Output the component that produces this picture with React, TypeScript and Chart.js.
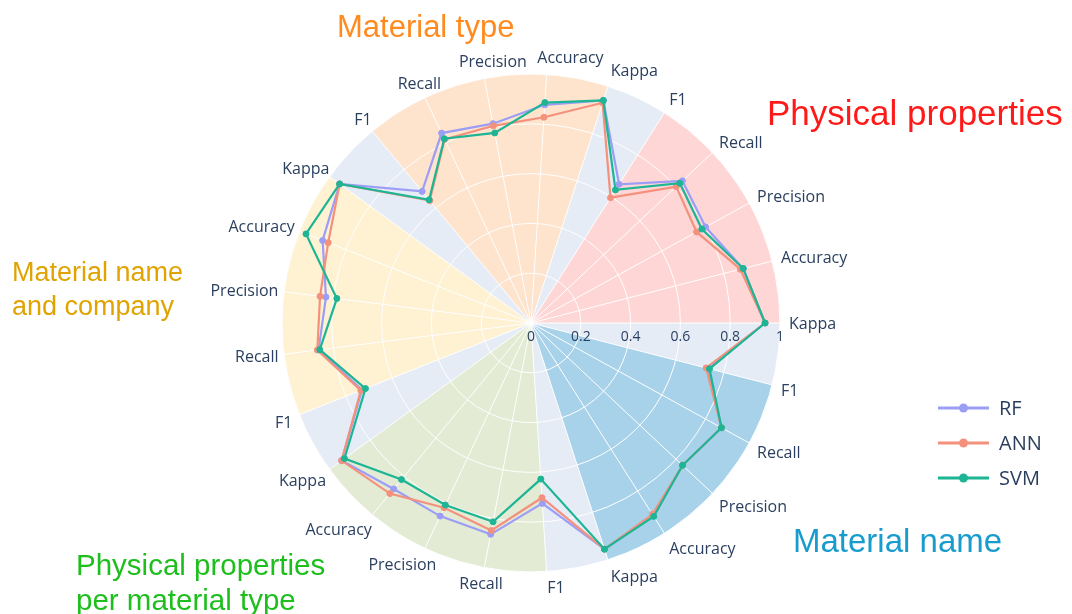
import React, { useEffect, useRef } from 'react';
import { Chart, registerables } from 'chart.js';

Chart.register(...registerables);

// ---------- data ----------
const metrics = ['Kappa', 'Accuracy', 'Precision', 'Recall', 'F1'];
const groupNames = [
  'Physical properties',
  'Material type',
  'Material name and company',
  'Physical properties per material type',
  'Material name',
];
// categories, counter-clockwise from 3 o'clock
const categories = groupNames.flatMap(() => metrics);

const rfValues = [
  0.94, 0.88, 0.8, 0.834, 0.66,
  0.94, 0.878, 0.815, 0.843, 0.686,
  0.95, 0.9, 0.83, 0.86, 0.73,
  0.94, 0.865, 0.857, 0.864, 0.726,
  0.955, 0.915, 0.835, 0.873, 0.735,
];
const annValues = [
  0.94, 0.868, 0.759, 0.8, 0.596,
  0.93, 0.828, 0.806, 0.815, 0.638,
  0.95, 0.876, 0.854, 0.865, 0.735,
  0.94, 0.889, 0.82, 0.848, 0.703,
  0.955, 0.91, 0.835, 0.873, 0.726,
];
const svmValues = [
  0.94, 0.88, 0.783, 0.82, 0.633,
  0.94, 0.887, 0.777, 0.818, 0.642,
  0.95, 0.972, 0.786, 0.855, 0.715,
  0.926, 0.816, 0.808, 0.813, 0.628,
  0.955, 0.92, 0.835, 0.873, 0.74,
];
const seriesNames = ['RF', 'ANN', 'SVM'];
const radialTickValues = [0, 0.2, 0.4, 0.6, 0.8, 1];
const radialTickLabels = ['0', '0.2', '0.4', '0.6', '0.8', '1'];

// ---------- styles ----------
const seriesColors = ['#9C9EF6', '#F4917D', '#1DB594'];
const sectorColors = ['#FFD6D6', '#FEE3CD', '#FEF2D3', '#E3EBD4', '#A8D2EA'];
const polarBg = '#E5ECF6';
const textColor = '#2a3f5f';
const titleColors = ['#FF1A1A', '#FF8A1E', '#E0A300', '#1DBF1D', '#179CCD'];
const titleLayout = [
  { lines: ['Physical properties'], x: 767, y: 125, size: 35, lh: 0 },
  { lines: ['Material type'], x: 337, y: 37, size: 31, lh: 0 },
  { lines: ['Material name', 'and company'], x: 12, y: 281, size: 27, lh: 34 },
  { lines: ['Physical properties', 'per material type'], x: 76, y: 575, size: 29.5, lh: 35 },
  { lines: ['Material name'], x: 793, y: 552, size: 33, lh: 0 },
];
const legendLayout = { x0: 938, x1: 989, textX: 999, y0: 408, dy: 35, font: 20 };

const N = categories.length;
// Chart.js goes clockwise; reorder so the picture runs counter-clockwise
const toDisplay = <T,>(arr: T[]): T[] => arr.map((_, j) => arr[(N - j) % N]);

const backgroundPlugin = {
  id: 'polarBackground',
  beforeDraw(chart: any) {
    const scale = chart.scales.r;
    const ctx = chart.ctx;
    const cx = scale.xCenter;
    const cy = scale.yCenter;
    const R = scale.getDistanceFromCenterForValue(1);
    ctx.save();
    ctx.beginPath();
    ctx.arc(cx, cy, R, 0, Math.PI * 2);
    ctx.fillStyle = polarBg;
    ctx.fill();
    const canvasAngle = (k: number) => scale.getIndexAngle((N - k) % N) - Math.PI / 2;
    for (let g = 0; g < 5; g++) {
      let a0 = canvasAngle(g * 5 + 4);
      let a1 = canvasAngle(g * 5);
      while (a1 <= a0) a1 += Math.PI * 2;
      ctx.beginPath();
      ctx.moveTo(cx, cy);
      ctx.arc(cx, cy, R, a0, a1);
      ctx.closePath();
      ctx.fillStyle = sectorColors[g];
      ctx.fill();
    }
    ctx.restore();
  },
};

const textPlugin = {
  id: 'polarText',
  afterDraw(chart: any) {
    const scale = chart.scales.r;
    const ctx = chart.ctx;
    const cx = scale.xCenter;
    const cy = scale.yCenter;
    const R = scale.getDistanceFromCenterForValue(1);
    ctx.save();
    // radial tick labels
    ctx.fillStyle = textColor;
    ctx.font = '14px "Open Sans"';
    ctx.textAlign = 'center';
    ctx.textBaseline = 'middle';
    radialTickValues.forEach((v, i) => {
      ctx.fillText(radialTickLabels[i], cx + scale.getDistanceFromCenterForValue(v), cy + 14);
    });
    // angular labels
    const fs = 16;
    const pad = 9;
    ctx.font = `${fs}px "Open Sans"`;
    ctx.textBaseline = 'alphabetic';
    ctx.textAlign = 'left';
    const labels = chart.data.labels as string[];
    labels.forEach((lab, j) => {
      const a = scale.getIndexAngle(j) - Math.PI / 2;
      const c = Math.cos(a);
      const sUp = -Math.sin(a);
      const ex = cx + R * c;
      const ey = cy - R * sUp;
      const upper = sUp > 0;
      const ff = upper ? 0.2 : 0.75;
      const x = ex + c * pad;
      const y = ey - sUp * (pad + fs * ff) + Math.abs(c) * fs * 0.35;
      let alpha;
      if (upper) alpha = c > 0.2 ? 0 : Math.min(0.95, Math.max(0, 0.2 - 0.8 * c));
      else alpha = c > 0.05 ? 0 : Math.min(0.92, Math.max(0, 0.35 - c));
      const w = ctx.measureText(lab).width;
      ctx.fillText(lab, x - alpha * w, y);
    });
    // group titles
    titleLayout.forEach((t, g) => {
      ctx.fillStyle = titleColors[g];
      ctx.font = `${t.size}px "Liberation Sans", Arial, sans-serif`;
      t.lines.forEach((line, li) => ctx.fillText(line, t.x, t.y + li * t.lh));
    });
    // legend
    seriesNames.forEach((name, i) => {
      const y = legendLayout.y0 + i * legendLayout.dy;
      ctx.strokeStyle = seriesColors[i];
      ctx.lineWidth = 3;
      ctx.beginPath();
      ctx.moveTo(legendLayout.x0, y);
      ctx.lineTo(legendLayout.x1, y);
      ctx.stroke();
      ctx.fillStyle = seriesColors[i];
      ctx.beginPath();
      ctx.arc((legendLayout.x0 + legendLayout.x1) / 2, y, 4.5, 0, Math.PI * 2);
      ctx.fill();
      ctx.fillStyle = textColor;
      ctx.font = `${legendLayout.font}px "Open Sans"`;
      ctx.textBaseline = 'middle';
      ctx.fillText(name, legendLayout.textX, y + 1);
      ctx.textBaseline = 'alphabetic';
    });
    ctx.restore();
  },
};

export default function App() {
  const ref = useRef<HTMLCanvasElement | null>(null);
  useEffect(() => {
    if (!ref.current) return;
    const seriesValues = [rfValues, annValues, svmValues];
    const chart = new Chart(ref.current, {
      type: 'radar',
      data: {
        labels: toDisplay(categories),
        datasets: seriesNames.map((name, i) => ({
          label: name,
          data: toDisplay(seriesValues[i]),
          borderColor: seriesColors[i],
          backgroundColor: seriesColors[i],
          pointBackgroundColor: seriesColors[i],
          pointBorderColor: seriesColors[i],
          pointRadius: 3,
          pointBorderWidth: 1,
          borderWidth: 2.2,
          fill: false,
          tension: 0,
          order: 2 - i,
          segment: {
            borderColor: (c: any) => (c.p0DataIndex === 0 && c.p1DataIndex === 1 ? 'rgba(0,0,0,0)' : undefined),
          },
        })),
      },
      options: {
        responsive: false,
        animation: false,
        layout: { padding: { left: 282, right: 292, top: 74, bottom: 42 } },
        plugins: { legend: { display: false }, tooltip: { enabled: false } },
        scales: {
          r: {
            min: 0,
            max: 1,
            startAngle: 90,
            ticks: { display: false, stepSize: 0.2 },
            pointLabels: { display: false },
            grid: { circular: true, color: '#ffffff', lineWidth: 1 },
            angleLines: { color: '#ffffff', lineWidth: 1 },
          },
        },
      } as any,
      plugins: [backgroundPlugin, textPlugin],
    });
    return () => chart.destroy();
  }, []);
  return (
    <div style={{ position: 'fixed', left: 0, top: 0, width: 1072, height: 614, background: '#fff' }}>
      <canvas ref={ref} width={1072} height={614} style={{ width: 1072, height: 614, display: 'block' }} />
    </div>
  );
}
